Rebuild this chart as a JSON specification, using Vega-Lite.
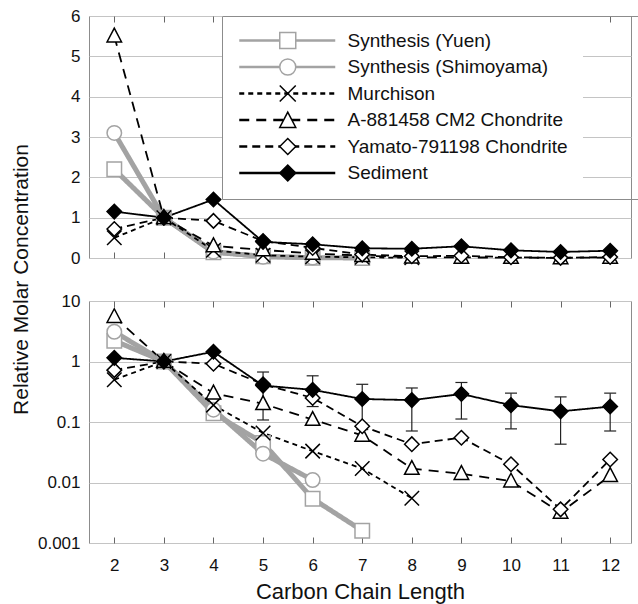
{
  "$schema": "https://vega.github.io/schema/vega-lite/v6.json",
  "padding": {"left": 9, "top": 6, "right": 4, "bottom": 2},
  "background": "white",
  "config": {
    "font": "Liberation Sans",
    "view": {"stroke": "#8c8c8c", "strokeWidth": 1},
    "axis": {
      "labelFont": "Liberation Sans", "labelFontSize": 17, "labelColor": "#111",
      "titleFont": "Liberation Sans", "titleFontWeight": "normal", "titleColor": "#111",
      "gridColor": "#c4c4c4", "gridWidth": 1, "domain": false, "tickColor": "#666", "tickWidth": 1
    }
  },
  "data": {"values": [
    {"series": "Synthesis (Yuen)", "len": 2, "conc": 2.2},
    {"series": "Synthesis (Yuen)", "len": 3, "conc": 1},
    {"series": "Synthesis (Yuen)", "len": 4, "conc": 0.14},
    {"series": "Synthesis (Yuen)", "len": 5, "conc": 0.045},
    {"series": "Synthesis (Yuen)", "len": 6, "conc": 0.0054},
    {"series": "Synthesis (Yuen)", "len": 7, "conc": 0.0016},
    {"series": "Synthesis (Shimoyama)", "len": 2, "conc": 3.1},
    {"series": "Synthesis (Shimoyama)", "len": 3, "conc": 1},
    {"series": "Synthesis (Shimoyama)", "len": 4, "conc": 0.16},
    {"series": "Synthesis (Shimoyama)", "len": 5, "conc": 0.03},
    {"series": "Synthesis (Shimoyama)", "len": 6, "conc": 0.011},
    {"series": "Murchison", "len": 2, "conc": 0.5},
    {"series": "Murchison", "len": 3, "conc": 1},
    {"series": "Murchison", "len": 4, "conc": 0.19},
    {"series": "Murchison", "len": 5, "conc": 0.066},
    {"series": "Murchison", "len": 6, "conc": 0.033},
    {"series": "Murchison", "len": 7, "conc": 0.017},
    {"series": "Murchison", "len": 8, "conc": 0.0055},
    {"series": "A-881458 CM2 Chondrite", "len": 2, "conc": 5.5},
    {"series": "A-881458 CM2 Chondrite", "len": 3, "conc": 1},
    {"series": "A-881458 CM2 Chondrite", "len": 4, "conc": 0.3},
    {"series": "A-881458 CM2 Chondrite", "len": 5, "conc": 0.2},
    {"series": "A-881458 CM2 Chondrite", "len": 6, "conc": 0.11},
    {"series": "A-881458 CM2 Chondrite", "len": 7, "conc": 0.06},
    {"series": "A-881458 CM2 Chondrite", "len": 8, "conc": 0.017},
    {"series": "A-881458 CM2 Chondrite", "len": 9, "conc": 0.014},
    {"series": "A-881458 CM2 Chondrite", "len": 10, "conc": 0.0105},
    {"series": "A-881458 CM2 Chondrite", "len": 11, "conc": 0.0032},
    {"series": "A-881458 CM2 Chondrite", "len": 12, "conc": 0.013},
    {"series": "Yamato-791198 Chondrite", "len": 2, "conc": 0.72},
    {"series": "Yamato-791198 Chondrite", "len": 3, "conc": 1},
    {"series": "Yamato-791198 Chondrite", "len": 4, "conc": 0.92},
    {"series": "Yamato-791198 Chondrite", "len": 5, "conc": 0.42},
    {"series": "Yamato-791198 Chondrite", "len": 6, "conc": 0.25},
    {"series": "Yamato-791198 Chondrite", "len": 7, "conc": 0.085},
    {"series": "Yamato-791198 Chondrite", "len": 8, "conc": 0.043},
    {"series": "Yamato-791198 Chondrite", "len": 9, "conc": 0.055},
    {"series": "Yamato-791198 Chondrite", "len": 10, "conc": 0.02},
    {"series": "Yamato-791198 Chondrite", "len": 11, "conc": 0.0036},
    {"series": "Yamato-791198 Chondrite", "len": 12, "conc": 0.024},
    {"series": "Sediment", "len": 2, "conc": 1.15},
    {"series": "Sediment", "len": 3, "conc": 1},
    {"series": "Sediment", "len": 4, "conc": 1.45},
    {"series": "Sediment", "len": 5, "conc": 0.4, "lo": 0.108, "hi": 0.67},
    {"series": "Sediment", "len": 6, "conc": 0.34, "lo": 0.18, "hi": 0.58},
    {"series": "Sediment", "len": 7, "conc": 0.24, "lo": 0.075, "hi": 0.42},
    {"series": "Sediment", "len": 8, "conc": 0.23, "lo": 0.071, "hi": 0.365},
    {"series": "Sediment", "len": 9, "conc": 0.29, "lo": 0.112, "hi": 0.45},
    {"series": "Sediment", "len": 10, "conc": 0.19, "lo": 0.077, "hi": 0.3},
    {"series": "Sediment", "len": 11, "conc": 0.15, "lo": 0.043, "hi": 0.26},
    {"series": "Sediment", "len": 12, "conc": 0.18, "lo": 0.071, "hi": 0.3}
  ]},
  "spacing": 43,
  "bounds": "flush",
  "vconcat": [
    {
      "width": 542, "height": 242,
      "resolve": {"axis": {"x": "independent"}},
      "layer": [
        {
          "mark": {"type": "line"},
          "encoding": {
            "x": {"field": "len", "type": "quantitative", "scale": {"domain": [1.49, 12.42], "nice": false, "zero": false},
                  "axis": {"orient": "top", "offset": -6, "labels": false, "tickSize": 6, "grid": false, "title": null, "values": [2,3,4,5,6,7,8,9,10,11,12]}},
            "y": {"field": "conc", "type": "quantitative", "scale": {"domain": [0, 6], "nice": false},
                  "axis": {"values": [0,1,2,3,4,5,6], "grid": true, "ticks": false, "labelPadding": 9,
                           "title": "Relative Molar Concentration", "titleFontSize": 21, "titleX": -68, "titleY": 263,
                           "titleAngle": -90, "titleBaseline": "middle", "titleAlign": "center"}},
            "color": {"field": "series", "type": "nominal",
                      "scale": {"domain": ["Synthesis (Yuen)", "Synthesis (Shimoyama)", "Murchison", "A-881458 CM2 Chondrite", "Yamato-791198 Chondrite", "Sediment"],
                                "range": ["#a3a3a3", "#a3a3a3", "#000000", "#000000", "#000000", "#000000"]},
                      "legend": {"orient": "none", "legendX": 133, "legendY": 0, "title": null, "symbolType": "M-6,0H6", "symbolSize": 256, "symbolStrokeWidth": 2.5,
                                 "symbolOffset": 40.75, "labelFont": "Liberation Sans", "labelFontSize": 19, "labelColor": "#111", "labelOffset": 50.75, "labelLimit": 600,
                                 "rowPadding": 6.5, "padding": 15, "fillColor": "white"}},
            "strokeDash": {"field": "series", "type": "nominal",
                      "scale": {"domain": ["Synthesis (Yuen)", "Synthesis (Shimoyama)", "Murchison", "A-881458 CM2 Chondrite", "Yamato-791198 Chondrite", "Sediment"],
                                "range": [[1, 0], [1, 0], [5, 4], [10, 7], [8, 5], [1, 0]]},
                      "legend": {"orient": "none", "legendX": 133, "legendY": 0, "title": null, "symbolType": "M-6,0H6", "symbolSize": 256, "symbolStrokeWidth": 2.5,
                                 "symbolOffset": 40.75, "labelFont": "Liberation Sans", "labelFontSize": 19, "labelColor": "#111", "labelOffset": 50.75, "labelLimit": 600,
                                 "rowPadding": 6.5, "padding": 15, "fillColor": "white"}},
            "strokeWidth": {"condition": {"test": "indexof(datum.series, 'Synthesis') === 0", "value": 5}, "value": 1.8}
          }
        },
        {
          "transform": [{"lookup": "series", "from": {"data": {"values": [
            {"series": "Synthesis (Yuen)", "marker": "Yuen"},
            {"series": "Synthesis (Shimoyama)", "marker": "Shimoyama"},
            {"series": "Murchison", "marker": "Murchison"},
            {"series": "A-881458 CM2 Chondrite", "marker": "A-881458"},
            {"series": "Yamato-791198 Chondrite", "marker": "Yamato-791198"},
            {"series": "Sediment", "marker": "Sediment"}]}, "key": "series", "fields": ["marker"]}}],
          "mark": {"type": "point", "filled": true, "opacity": 1, "size": 210, "strokeWidth": 1.5},
          "encoding": {
            "x": {"field": "len", "type": "quantitative",
                  "axis": {"orient": "bottom", "offset": -6, "labels": false, "tickSize": 6, "grid": false, "title": null, "values": [2,3,4,5,6,7,8,9,10,11,12]}},
            "y": {"field": "conc", "type": "quantitative"},
            "shape": {"field": "marker", "type": "nominal",
                      "scale": {"domain": ["Yuen", "Shimoyama", "Murchison", "A-881458", "Yamato-791198", "Sediment"],
                                "range": ["square", "circle", "M-1,-1L1,1M-1,1L1,-1", "M0,-1.1L-1,0.8L1,0.8Z", "diamond", "diamond"]},
                      "legend": {"orient": "none", "legendX": 133, "legendY": 0, "title": null, "labelExpr": "' '", "labelFontSize": 19, "labelOffset": 349.5,
                                 "symbolSize": 256, "symbolStrokeWidth": 1.5, "symbolOpacity": 1, "symbolOffset": 41.25, "rowPadding": 3.5, "padding": 15, "strokeColor": "#8c8c8c"}},
            "fill": {"field": "marker", "type": "nominal",
                     "scale": {"domain": ["Yuen", "Shimoyama", "Murchison", "A-881458", "Yamato-791198", "Sediment"],
                               "range": ["#ffffff", "#ffffff", "#ffffff", "#ffffff", "#ffffff", "#000000"]},
                     "legend": {"orient": "none", "legendX": 133, "legendY": 0, "title": null, "labelExpr": "' '", "labelFontSize": 19, "labelOffset": 349.5,
                                "symbolSize": 256, "symbolStrokeWidth": 1.5, "symbolOpacity": 1, "symbolOffset": 41.25, "rowPadding": 3.5, "padding": 15, "strokeColor": "#8c8c8c"}},
            "stroke": {"field": "marker", "type": "nominal",
                       "scale": {"domain": ["Yuen", "Shimoyama", "Murchison", "A-881458", "Yamato-791198", "Sediment"],
                                 "range": ["#a3a3a3", "#a3a3a3", "#000000", "#000000", "#000000", "#000000"]},
                       "legend": {"orient": "none", "legendX": 133, "legendY": 0, "title": null, "labelExpr": "' '", "labelFontSize": 19, "labelOffset": 349.5,
                                  "symbolSize": 256, "symbolStrokeWidth": 1.5, "symbolOpacity": 1, "symbolOffset": 41.25, "rowPadding": 3.5, "padding": 15, "strokeColor": "#8c8c8c"}}
          }
        }
      ]
    },
    {
      "width": 542, "height": 242,
      "resolve": {"axis": {"x": "independent"}},
      "layer": [
        {
          "mark": {"type": "line"},
          "encoding": {
            "x": {"field": "len", "type": "quantitative", "scale": {"domain": [1.49, 12.42], "nice": false, "zero": false},
                  "axis": {"orient": "top", "offset": -6, "labels": false, "tickSize": 6, "grid": false, "title": null, "values": [2,3,4,5,6,7,8,9,10,11,12]}},
            "y": {"field": "conc", "type": "quantitative", "scale": {"type": "log", "domain": [0.001, 10], "nice": false},
                  "axis": {"values": [0.001, 0.01, 0.1, 1, 10], "format": "~g", "grid": true, "ticks": false, "labelPadding": 9, "title": null}},
            "color": {"field": "series", "type": "nominal",
                      "scale": {"domain": ["Synthesis (Yuen)", "Synthesis (Shimoyama)", "Murchison", "A-881458 CM2 Chondrite", "Yamato-791198 Chondrite", "Sediment"],
                                "range": ["#a3a3a3", "#a3a3a3", "#000000", "#000000", "#000000", "#000000"]}},
            "strokeDash": {"field": "series", "type": "nominal",
                      "scale": {"domain": ["Synthesis (Yuen)", "Synthesis (Shimoyama)", "Murchison", "A-881458 CM2 Chondrite", "Yamato-791198 Chondrite", "Sediment"],
                                "range": [[1, 0], [1, 0], [5, 4], [10, 7], [8, 5], [1, 0]]}},
            "strokeWidth": {"condition": {"test": "indexof(datum.series, 'Synthesis') === 0", "value": 5}, "value": 1.8}
          }
        },
        {
          "transform": [{"filter": "isValid(datum.lo)"}],
          "mark": {"type": "rule", "color": "#222", "strokeWidth": 1.2},
          "encoding": {
            "x": {"field": "len", "type": "quantitative",
                  "axis": {"orient": "bottom", "offset": -6, "labels": false, "tickSize": 6, "grid": false, "title": null, "values": [2,3,4,5,6,7,8,9,10,11,12]}},
            "y": {"field": "lo", "type": "quantitative"},
            "y2": {"field": "hi"}
          }
        },
        {
          "transform": [{"filter": "isValid(datum.lo)"}],
          "mark": {"type": "tick", "orient": "horizontal", "size": 12, "thickness": 1.2, "color": "#222", "opacity": 1},
          "encoding": {
            "x": {"field": "len", "type": "quantitative", "axis": null},
            "y": {"field": "lo", "type": "quantitative"}
          }
        },
        {
          "transform": [{"filter": "isValid(datum.hi)"}],
          "mark": {"type": "tick", "orient": "horizontal", "size": 12, "thickness": 1.2, "color": "#222", "opacity": 1},
          "encoding": {
            "x": {"field": "len", "type": "quantitative", "axis": null},
            "y": {"field": "hi", "type": "quantitative"}
          }
        },
        {
          "transform": [{"lookup": "series", "from": {"data": {"values": [
            {"series": "Synthesis (Yuen)", "marker": "Yuen"},
            {"series": "Synthesis (Shimoyama)", "marker": "Shimoyama"},
            {"series": "Murchison", "marker": "Murchison"},
            {"series": "A-881458 CM2 Chondrite", "marker": "A-881458"},
            {"series": "Yamato-791198 Chondrite", "marker": "Yamato-791198"},
            {"series": "Sediment", "marker": "Sediment"}]}, "key": "series", "fields": ["marker"]}}],
          "mark": {"type": "point", "filled": true, "opacity": 1, "size": 210, "strokeWidth": 1.5},
          "encoding": {
            "x": {"field": "len", "type": "quantitative",
                  "axis": {"orient": "bottom", "ticks": false, "labelPadding": 14, "grid": false, "values": [2,3,4,5,6,7,8,9,10,11,12],
                           "title": "Carbon Chain Length", "titleFontSize": 22, "titlePadding": 8}},
            "y": {"field": "conc", "type": "quantitative"},
            "shape": {"field": "marker", "type": "nominal",
                      "scale": {"domain": ["Yuen", "Shimoyama", "Murchison", "A-881458", "Yamato-791198", "Sediment"],
                                "range": ["square", "circle", "M-1,-1L1,1M-1,1L1,-1", "M0,-1.1L-1,0.8L1,0.8Z", "diamond", "diamond"]}},
            "fill": {"field": "marker", "type": "nominal",
                     "scale": {"domain": ["Yuen", "Shimoyama", "Murchison", "A-881458", "Yamato-791198", "Sediment"],
                               "range": ["#ffffff", "#ffffff", "#ffffff", "#ffffff", "#ffffff", "#000000"]}},
            "stroke": {"field": "marker", "type": "nominal",
                       "scale": {"domain": ["Yuen", "Shimoyama", "Murchison", "A-881458", "Yamato-791198", "Sediment"],
                                 "range": ["#a3a3a3", "#a3a3a3", "#000000", "#000000", "#000000", "#000000"]}}
          }
        }
      ]
    }
  ]
}
